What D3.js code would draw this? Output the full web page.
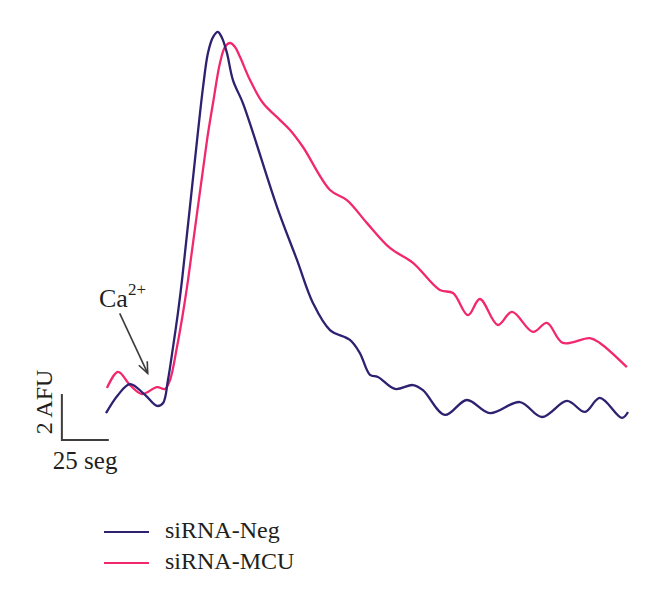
<!DOCTYPE html>
<html>
<head>
<meta charset="utf-8">
<script src="https://cdn.jsdelivr.net/npm/d3@7"></script>
<style>
  body { margin: 0; background: #fff; }
  svg text { font-family: "Liberation Serif", "DejaVu Serif", serif; fill: #231f20; }
</style>
</head>
<body>
<svg id="chart" width="660" height="603"></svg>
<script>
// traces: time (s) vs fluorescence (AFU)
const negTime = [0, 6.4, 12.8, 20.8, 27.2, 30.4, 33.0, 35.7, 38.3, 40.5, 48.5, 51.7, 54.3, 57.0,
  59.6, 61.8, 64.4, 67.6, 72.9, 78.3, 91.1, 101.7, 110.2, 119.3, 129.9, 135.2, 140.6, 144.8,
  153.9, 163.5, 168.8, 180.5, 192.2, 204.5, 220.4, 232.2, 245.5, 255.1, 263.0, 274.8, 278.0];
const negAFU = [1.17, 1.96, 2.43, 1.96, 1.48, 1.61, 2.61, 4.04, 5.52, 6.96, 13.04, 15.35, 16.83, 17.52,
  17.74, 17.48, 16.83, 15.65, 14.65, 13.35, 10.13, 7.83, 5.96, 4.78, 4.35, 3.78, 2.83, 2.74,
  2.22, 2.39, 2.17, 1.09, 1.74, 1.17, 1.65, 1.00, 1.70, 1.22, 1.83, 0.96, 1.22];

const mcuTime = [0.5, 6.4, 12.8, 19.2, 27.2, 31.4, 34.1, 37.8, 41.0, 43.7, 53.8, 57.0, 60.7, 63.4,
  66.0, 68.7, 71.4, 76.7, 83.6, 92.7, 98.0, 104.9, 119.3, 128.3, 139.0, 151.2, 163.5, 177.8,
  184.8, 192.8, 199.1, 208.7, 216.2, 227.4, 234.8, 243.3, 257.7, 263.0, 277.4];
const mcuAFU = [2.26, 2.96, 2.39, 2.00, 2.30, 2.22, 2.61, 4.04, 5.52, 6.96, 13.04, 14.65, 16.39, 17.09,
  17.26, 17.09, 16.65, 15.65, 14.65, 13.91, 13.48, 12.74, 10.87, 10.43, 9.43, 8.35, 7.70, 6.52,
  6.39, 5.43, 6.13, 5.00, 5.57, 4.70, 5.09, 4.22, 4.43, 4.22, 3.17];

const seriesNames = ["siRNA-Neg", "siRNA-MCU"];
const seriesColors = ["#2d2170", "#f2286f"];

// scale bar values
const barSeconds = 25;
const barAFU = 2;
const barStartTime = -23.5;
const caAddTime = 27; // arrow marks Ca2+ addition

const svg = d3.select("#chart");

const x = d3.scaleLinear().domain([0, 278]).range([106, 628]);
const y = d3.scaleLinear().domain([0, 18]).range([440, 26]);

const line = d3.line()
    .x(d => x(d[0]))
    .y(d => y(d[1]))
    .curve(d3.curveCatmullRom.alpha(0.5));

const series = [
    d3.zip(negTime, negAFU),
    d3.zip(mcuTime, mcuAFU)
];

// pink first so the dark trace sits on top
[1, 0].forEach(i => {
    svg.append("path")
        .datum(series[i])
        .attr("d", line)
        .attr("fill", "none")
        .attr("stroke", seriesColors[i])
        .attr("stroke-width", 2.3)
        .attr("stroke-linejoin", "round");
});

// scale bars
const bx0 = x(barStartTime);
const by0 = y(0);
svg.append("path")
    .attr("d", `M${bx0},${y(barAFU)}V${by0}H${x(barStartTime + barSeconds)}`)
    .attr("fill", "none")
    .attr("stroke", "#3d3d3d")
    .attr("stroke-width", 2);

svg.append("text")
    .attr("transform", `translate(${bx0 - 10},${(y(barAFU) + by0) / 2 - 15}) rotate(-90)`)
    .attr("text-anchor", "middle")
    .attr("font-size", 24)
    .text(barAFU + " AFU");

svg.append("text")
    .attr("x", bx0 - 9)
    .attr("y", by0 + 29)
    .attr("font-size", 25)
    .text(barSeconds + " seg");

// Ca2+ arrow
const tipX = x(caAddTime) - 9;
const tipY = y(2.9);
const tailX = tipX - 28;
const tailY = tipY - 60;
svg.append("line")
    .attr("x1", tailX).attr("y1", tailY)
    .attr("x2", tipX).attr("y2", tipY)
    .attr("stroke", "#3a3a3a")
    .attr("stroke-width", 1.6);
const ang = Math.atan2(tipY - tailY, tipX - tailX);
const hl = 12, ha = 0.4;
svg.append("path")
    .attr("d", `M${tipX - hl * Math.cos(ang - ha)},${tipY - hl * Math.sin(ang - ha)}L${tipX},${tipY}L${tipX - hl * Math.cos(ang + ha)},${tipY - hl * Math.sin(ang + ha)}`)
    .attr("fill", "none")
    .attr("stroke", "#3a3a3a")
    .attr("stroke-width", 1.6);

const ca = svg.append("text")
    .attr("x", 99)
    .attr("y", 307)
    .attr("font-size", 26);
ca.append("tspan").text("Ca");
ca.append("tspan")
    .attr("font-size", 17)
    .attr("dy", -12)
    .text("2+");

// legend
const legend = svg.append("g");
seriesNames.forEach((name, i) => {
    const ly = 532 + i * 31;
    legend.append("line")
        .attr("x1", 104).attr("x2", 149)
        .attr("y1", ly).attr("y2", ly)
        .attr("stroke", seriesColors[i])
        .attr("stroke-width", 2);
    legend.append("text")
        .attr("x", 165)
        .attr("y", ly + 6)
        .attr("font-size", 24)
        .text(name);
});
</script>
</body>
</html>
